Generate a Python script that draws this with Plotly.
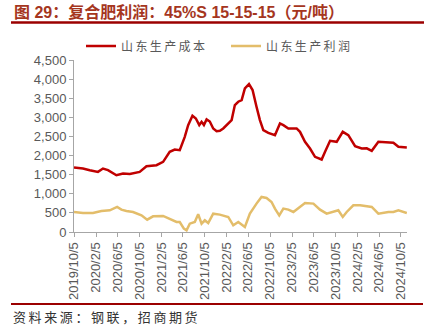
import plotly.graph_objects as go

# ---- data ----
cost_dates = ["2019-10-05","2019-11-24","2020-01-01","2020-02-16","2020-03-15","2020-04-12","2020-05-29",
              "2020-07-05","2020-08-12","2020-10-06","2020-11-13","2021-01-08","2021-02-14","2021-03-23",
              "2021-04-20","2021-05-18","2021-06-15","2021-07-04","2021-07-28","2021-08-16","2021-09-04",
              "2021-09-17","2021-09-30","2021-10-15","2021-11-02","2021-11-21","2021-12-10","2021-12-28",
              "2022-01-16","2022-02-13","2022-03-04","2022-03-22","2022-04-10","2022-04-29","2022-05-17",
              "2022-06-09","2022-06-29","2022-07-21","2022-08-09","2022-08-28","2022-09-25","2022-11-01",
              "2022-11-29","2022-12-18","2023-01-15","2023-03-02","2023-03-21","2023-04-18","2023-05-16",
              "2023-06-13","2023-07-20","2023-08-08","2023-09-05","2023-10-12","2023-11-15","2023-12-16",
              "2024-01-23","2024-02-29","2024-03-28","2024-04-25","2024-06-01","2024-08-24","2024-09-21",
              "2024-11-07"]
cost_values = [1686,1660,1617,1573,1660,1620,1485,1530,1515,1573,1721,1748,1835,2097,2158,2140,2490,2796,
               3041,2971,2796,2883,2800,2945,2890,2709,2639,2650,2709,2840,2927,3320,3408,3452,3757,3871,
               3714,3277,2927,2665,2595,2534,2840,2796,2709,2709,2620,2359,2184,1966,1896,2097,2385,2359,
               2621,2534,2246,2184,2190,2123,2359,2333,2228,2211]

profit_dates = ["2019-10-05","2019-11-24","2020-01-19","2020-03-06","2020-04-22","2020-06-02","2020-06-26",
                "2020-07-24","2020-08-30","2020-10-16","2020-11-17","2020-12-20","2021-02-14","2021-03-23",
                "2021-04-30","2021-05-18","2021-06-10","2021-06-25","2021-07-13","2021-08-10","2021-08-29",
                "2021-09-17","2021-10-05","2021-10-24","2021-11-21","2021-12-28","2022-02-13","2022-03-13",
                "2022-04-10","2022-05-17","2022-06-14","2022-07-21","2022-08-18","2022-09-15","2022-10-13",
                "2022-11-01","2022-11-25","2022-12-18","2023-01-15","2023-02-12","2023-03-21","2023-04-18",
                "2023-06-04","2023-07-11","2023-08-17","2023-09-23","2023-10-21","2023-11-15","2023-12-07",
                "2024-01-13","2024-02-20","2024-04-25","2024-06-01","2024-07-27","2024-08-24","2024-09-21",
                "2024-11-07"]
profit_values = [524,498,498,550,568,655,585,550,524,437,323,411,419,350,262,262,87,44,218,262,463,218,306,
                 235,480,455,393,175,262,131,480,743,917,891,786,612,437,612,585,524,655,760,743,585,480,
                 524,568,393,524,699,699,655,480,524,524,568,498]

tick_dates = ["2019-10-05","2020-02-05","2020-06-05","2020-10-05","2021-02-05","2021-06-05","2021-10-05",
              "2022-02-05","2022-06-05","2022-10-05","2023-02-05","2023-06-05","2023-10-05","2024-02-05",
              "2024-06-05","2024-10-05"]
tick_labels = ["2019/10/5","2020/2/5","2020/6/5","2020/10/5","2021/2/5","2021/6/5","2021/10/5",
               "2022/2/5","2022/6/5","2022/10/5","2023/2/5","2023/6/5","2023/10/5","2024/2/5",
               "2024/6/5","2024/10/5"]
y_ticks = [0,500,1000,1500,2000,2500,3000,3500,4000,4500]

series_names = ["山东生产成本", "山东生产利润"]
title_text = "图 29：复合肥利润：45%S 15-15-15（元/吨）"
source_text = "资料来源：钢联，招商期货"

# ---- layout geometry ----
W, H = 434, 330
L, R, T, B = 74, 27, 60, 98
pw, ph = W - L - R, H - T - B

def px(x):
    return (x - L) / pw

def py(y):
    return (H - B - y) / ph

CJK = "Noto Sans CJK SC"
ARIAL = "Arial, Liberation Sans, " + CJK
GRAY = "#595959"

def spaced(s):
    return "\u2009".join(s)

fig = go.Figure()
fig.add_trace(go.Scatter(x=cost_dates, y=cost_values, mode="lines", name=spaced(series_names[0]),
                         line=dict(color="#c00000", width=2.5)))
fig.add_trace(go.Scatter(x=profit_dates, y=profit_values, mode="lines", name=spaced(series_names[1]),
                         line=dict(color="#e3bd6a", width=2.5)))

fig.update_layout(
    width=W, height=H,
    margin=dict(l=L, r=R, t=T, b=B, pad=0),
    paper_bgcolor="white", plot_bgcolor="white",
    showlegend=True,
    legend=dict(orientation="h", x=px(81), y=py(46), xanchor="left", yanchor="middle",
                font=dict(family=CJK, size=12, color=GRAY), itemwidth=30,
                entrywidth=100, entrywidthmode="pixels", bgcolor="rgba(0,0,0,0)"),
    xaxis=dict(type="date", range=["2019-10-05", "2024-11-08"],
               tickmode="array", tickvals=tick_dates, ticktext=tick_labels, tickangle=-90,
               showgrid=False, zeroline=False, showline=True, linecolor="#a6a6a6", linewidth=1,
               ticks="outside", ticklen=4, tickcolor="#a6a6a6",
               tickfont=dict(family=ARIAL, size=13, color=GRAY)),
    yaxis=dict(range=[0, 4500], tickmode="array", tickvals=y_ticks, tickformat=",",
               showgrid=False, zeroline=False, showline=True, linecolor="#a6a6a6", linewidth=1,
               ticks="outside", ticklen=4, tickcolor="#a6a6a6",
               tickfont=dict(family=ARIAL, size=13, color=GRAY)),
)

fig.add_annotation(text="<b>" + title_text + "</b>", xref="paper", yref="paper",
                   x=px(12), y=py(12), xanchor="left", yanchor="middle", showarrow=False,
                   font=dict(family=ARIAL, size=16, color="#a5361e"))
fig.add_annotation(text=spaced(source_text), xref="paper", yref="paper",
                   x=px(11), y=py(316), xanchor="left", yanchor="middle", showarrow=False,
                   font=dict(family=CJK, size=13, color="#333333"))

fig.add_shape(type="line", xref="paper", yref="paper", x0=px(11), x1=px(424), y0=py(22.5), y1=py(22.5),
              line=dict(color="#9b0000", width=2.5))
fig.add_shape(type="line", xref="paper", yref="paper", x0=px(11), x1=px(423), y0=py(304), y1=py(304),
              line=dict(color="#9b0000", width=2))

fig.write_html("out.html")
